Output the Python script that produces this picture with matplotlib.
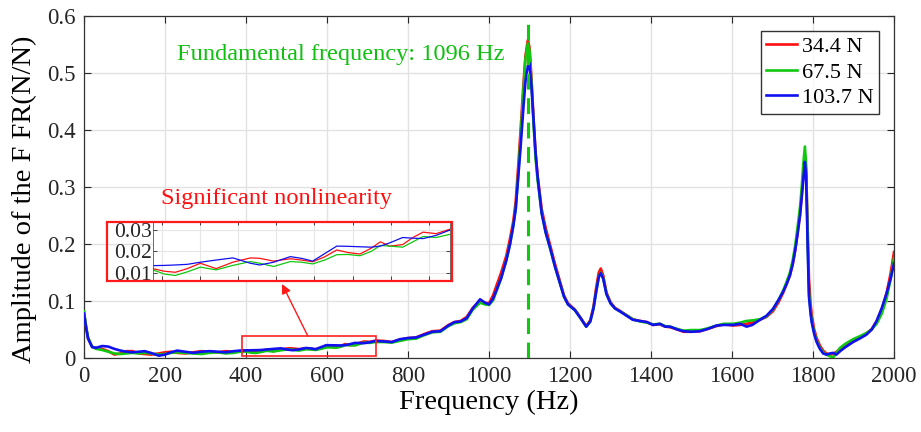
import numpy as np
import matplotlib
matplotlib.use("Agg")
import matplotlib.pyplot as plt
from matplotlib.patches import Rectangle

plt.rcParams['font.family'] = ['Liberation Serif', 'DejaVu Serif']

# Frequency axis (Hz) shared by the three measured FRF curves
freq = [0, 5, 10, 20, 30, 45, 60, 75, 90, 105, 120, 135, 150, 165, 185, 200,
        215, 230, 250, 270, 290, 310, 330, 350, 370, 385, 400, 412, 424, 437,
        451, 468, 486, 505, 515, 530, 548, 560, 572, 585, 598, 610, 623, 635,
        645, 655, 669, 680, 691, 705, 720, 740, 760, 780, 800, 820, 840, 860,
        880, 900, 915, 930, 945, 960, 978, 990, 1000, 1010, 1020, 1030, 1043,
        1052, 1060, 1066, 1072, 1078, 1085, 1090, 1096, 1100, 1105, 1110, 1115,
        1120, 1130, 1140, 1151, 1163, 1175, 1185, 1195, 1212, 1225, 1240, 1250,
        1258, 1265, 1271, 1276, 1282, 1290, 1300, 1311, 1325, 1340, 1355, 1373,
        1390, 1405, 1422, 1435, 1447, 1465, 1480, 1500, 1521, 1540, 1562, 1580,
        1603, 1620, 1636, 1650, 1669, 1685, 1701, 1715, 1726, 1735, 1743, 1750,
        1756, 1762, 1768, 1772, 1776, 1780, 1783, 1787, 1790, 1794, 1797, 1803,
        1809, 1817, 1825, 1833, 1842, 1850, 1858, 1867, 1880, 1899, 1915, 1932,
        1945, 1957, 1970, 1982, 1992, 2000]

# FRF amplitude (N/N) at excitation force 34.4 N
amp_34_4 = [0.080, 0.055, 0.035, 0.020, 0.017, 0.016, 0.012, 0.006, 0.008, 0.012,
            0.012, 0.008, 0.007, 0.006, 0.008, 0.010, 0.011, 0.009, 0.008, 0.010,
            0.012, 0.011, 0.010, 0.012, 0.011, 0.012, 0.0120, 0.0108, 0.0103, 0.0120,
            0.0145, 0.0120, 0.0150, 0.0170, 0.0168, 0.0155, 0.0166, 0.0160, 0.0152, 0.0175,
            0.0207, 0.0195, 0.0188, 0.0215, 0.0245, 0.0225, 0.0232, 0.0265, 0.0290, 0.0283,
            0.0304, 0.030, 0.028, 0.032, 0.035, 0.036, 0.042, 0.047, 0.048, 0.058,
            0.063, 0.065, 0.072, 0.088, 0.100, 0.097, 0.096, 0.110, 0.130, 0.150,
            0.180, 0.210, 0.240, 0.275, 0.335, 0.400, 0.480, 0.530, 0.558, 0.545,
            0.490, 0.420, 0.360, 0.320, 0.262, 0.228, 0.198, 0.165, 0.135, 0.110,
            0.096, 0.085, 0.072, 0.056, 0.066, 0.090, 0.125, 0.150, 0.157, 0.145,
            0.115, 0.098, 0.088, 0.082, 0.075, 0.068, 0.065, 0.063, 0.058, 0.059,
            0.055, 0.054, 0.050, 0.046, 0.046, 0.047, 0.051, 0.056, 0.059, 0.057,
            0.058, 0.060, 0.062, 0.067, 0.072, 0.082, 0.098, 0.114, 0.130, 0.145,
            0.165, 0.189, 0.220, 0.254, 0.285, 0.320, 0.355, 0.330, 0.220, 0.140,
            0.095, 0.075, 0.050, 0.035, 0.022, 0.013, 0.008, 0.006, 0.007, 0.011,
            0.016, 0.022, 0.030, 0.036, 0.043, 0.051, 0.064, 0.085, 0.115, 0.150,
            0.186]

# FRF amplitude (N/N) at excitation force 67.5 N
amp_67_5 = [0.082, 0.056, 0.036, 0.020, 0.016, 0.014, 0.011, 0.008, 0.007, 0.008,
            0.009, 0.008, 0.009, 0.008, 0.006, 0.007, 0.009, 0.010, 0.009, 0.008,
            0.007, 0.009, 0.010, 0.008, 0.009, 0.011, 0.0114, 0.0095, 0.0088, 0.0105,
            0.0127, 0.0114, 0.0135, 0.0153, 0.0145, 0.0130, 0.0153, 0.0150, 0.0142, 0.0160,
            0.0185, 0.0186, 0.0180, 0.0200, 0.0228, 0.0225, 0.0220, 0.0245, 0.0270, 0.0265,
            0.0280, 0.028, 0.027, 0.030, 0.033, 0.034, 0.040, 0.045, 0.046, 0.056,
            0.061, 0.063, 0.068, 0.085, 0.097, 0.094, 0.093, 0.101, 0.120, 0.140,
            0.172, 0.200, 0.232, 0.262, 0.320, 0.385, 0.470, 0.525, 0.552, 0.540,
            0.480, 0.410, 0.350, 0.312, 0.255, 0.220, 0.192, 0.160, 0.132, 0.108,
            0.094, 0.084, 0.071, 0.055, 0.064, 0.087, 0.118, 0.142, 0.150, 0.140,
            0.113, 0.096, 0.087, 0.081, 0.075, 0.068, 0.064, 0.062, 0.059, 0.060,
            0.056, 0.055, 0.051, 0.048, 0.049, 0.049, 0.052, 0.057, 0.060, 0.060,
            0.062, 0.065, 0.066, 0.068, 0.073, 0.085, 0.102, 0.118, 0.134, 0.150,
            0.172, 0.197, 0.230, 0.265, 0.298, 0.340, 0.371, 0.340, 0.205, 0.115,
            0.082, 0.065, 0.045, 0.030, 0.018, 0.010, 0.006, 0.003, 0.001, 0.009,
            0.018, 0.025, 0.033, 0.038, 0.044, 0.050, 0.060, 0.078, 0.105, 0.140,
            0.175]

# FRF amplitude (N/N) at excitation force 103.7 N
amp_103_7 = [0.078, 0.054, 0.034, 0.019, 0.018, 0.021, 0.020, 0.016, 0.013, 0.011,
             0.010, 0.011, 0.012, 0.009, 0.004, 0.006, 0.010, 0.013, 0.011, 0.009,
             0.011, 0.012, 0.011, 0.010, 0.012, 0.013, 0.0134, 0.0135, 0.0137, 0.0140,
             0.0150, 0.0160, 0.0170, 0.0145, 0.0137, 0.0150, 0.0176, 0.0168, 0.0155, 0.0190,
             0.0225, 0.0224, 0.0222, 0.0220, 0.0225, 0.0240, 0.0265, 0.0262, 0.0260, 0.0275,
             0.0300, 0.029, 0.028, 0.033, 0.035, 0.036, 0.041, 0.046, 0.047, 0.057,
             0.063, 0.064, 0.070, 0.087, 0.103, 0.097, 0.094, 0.104, 0.122, 0.140,
             0.172, 0.200, 0.232, 0.262, 0.315, 0.370, 0.440, 0.485, 0.512, 0.517,
             0.475, 0.418, 0.360, 0.318, 0.254, 0.220, 0.193, 0.160, 0.132, 0.108,
             0.094, 0.084, 0.071, 0.055, 0.064, 0.087, 0.118, 0.142, 0.149, 0.139,
             0.112, 0.096, 0.087, 0.081, 0.074, 0.067, 0.065, 0.063, 0.058, 0.060,
             0.055, 0.055, 0.050, 0.047, 0.046, 0.047, 0.051, 0.057, 0.058, 0.058,
             0.060, 0.055, 0.058, 0.067, 0.074, 0.086, 0.102, 0.116, 0.130, 0.145,
             0.165, 0.189, 0.218, 0.250, 0.280, 0.312, 0.344, 0.320, 0.190, 0.108,
             0.078, 0.062, 0.042, 0.028, 0.016, 0.008, 0.006, 0.008, 0.009, 0.006,
             0.012, 0.019, 0.028, 0.034, 0.041, 0.050, 0.065, 0.088, 0.114, 0.140,
             0.166]

labels = ['34.4 N', '67.5 N', '103.7 N']
colors = ['#ff1010', '#10c810', '#1010f0']
series = [amp_34_4, amp_67_5, amp_103_7]

fundamental_hz = 1096
x_ticks = list(range(0, 2001, 200))
y_ticks = [0, 0.1, 0.2, 0.3, 0.4, 0.5, 0.6]
zoom_xlim = (400, 720)
zoom_ylim = (0.0067, 0.0342)
zoom_yticks = [0.01, 0.02, 0.03]

W, H = 921, 432
fig = plt.figure(figsize=(W / 100, H / 100), dpi=100)
ax = fig.add_axes([84 / W, 74 / H, 810 / W, 342 / H])

for amp, lab, col in zip(series, labels, colors):
    ax.plot(freq, amp, color=col, lw=1.9, label=lab, zorder=3)

vl = ax.axvline(fundamental_hz, color='#10c810', lw=2.2, zorder=4)
vl.set_dashes([5.2, 2.8])

ax.set_xlim(0, 2000)
ax.set_ylim(0, 0.6)
ax.set_xticks(x_ticks)
ax.set_yticks(y_ticks)
ax.set_yticklabels(['0', '0.1', '0.2', '0.3', '0.4', '0.5', '0.6'])
ax.grid(True, color='#e2e2e2', lw=1.0, zorder=0)
ax.set_axisbelow(True)
ax.tick_params(direction='in', length=5, width=0.8, top=True, right=True,
               labelsize=16.5, colors='#262626', pad=6)
for s in ax.spines.values():
    s.set_color('#333333')
    s.set_linewidth(0.9)

ax.set_xlabel('Frequency (Hz)', fontsize=20.5, labelpad=2)
ax.set_ylabel('Amplitude of the F FR(N/N)', fontsize=20.5)
ax.yaxis.set_label_coords(-0.058, 0.465)

leg = ax.legend(loc='upper right', bbox_to_anchor=((879 - 84) / 810, (358 - 31) / 342),
                borderaxespad=0, fontsize=16, frameon=True, fancybox=False,
                edgecolor='black', handlelength=1.4, handletextpad=0.2,
                labelspacing=0.22, borderpad=0.25)
leg.get_frame().set_linewidth(1.0)

ax.text(230, 0.523, 'Fundamental frequency: 1096 Hz', color='#10c010',
        fontsize=17.6, ha='left', va='baseline')
ax.text(190, 0.270, 'Significant nonlinearity', color='#ff1010',
        fontsize=17.6, ha='left', va='baseline')

# Region highlighted for the zoomed view
ax.add_patch(Rectangle((390, 0.004), 330, 0.034, fill=False, edgecolor='#ff2020',
                       lw=1.2, zorder=5))

# Zoomed view of the low-amplitude band
axi = fig.add_axes([153 / W, (H - 280) / H, 297 / W, 59 / H])
for amp, col in zip(series, colors):
    axi.plot(freq, amp, color=col, lw=0.9)
axi.set_xlim(*zoom_xlim)
axi.set_ylim(*zoom_ylim)
axi.set_xticks(np.arange(410, 720, 41))
axi.set_xticklabels([])
axi.set_yticks(zoom_yticks)
axi.set_yticklabels(['0.01', '0.02', '0.03'])
axi.grid(True, color='#e6e6e6', lw=0.8)
axi.set_axisbelow(True)
axi.tick_params(direction='in', length=3, width=0.6, right=True, top=True,
                labelsize=15.5, colors='#262626', pad=1)
for s in axi.spines.values():
    s.set_color('#555555')
    s.set_linewidth(0.6)

fig.add_artist(Rectangle((107 / W, (H - 281) / H), 345 / W, 59 / H, fill=False,
                         edgecolor='#ff1a1a', lw=1.6, transform=fig.transFigure))

ax.annotate('', xy=(282 / W, (H - 284) / H), xycoords='figure fraction',
            xytext=(553, 0.038), textcoords='data',
            arrowprops=dict(arrowstyle='-|>', color='#ff1a1a', lw=1.0,
                            mutation_scale=14, shrinkA=0, shrinkB=0))

fig.savefig('out.png', dpi=100)
